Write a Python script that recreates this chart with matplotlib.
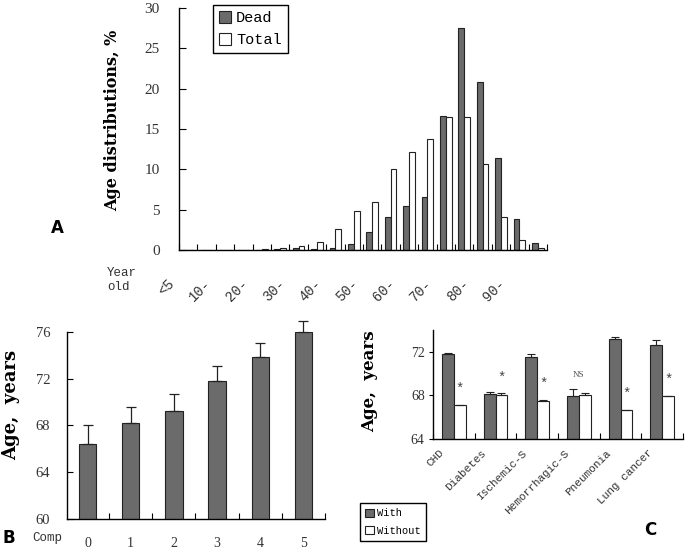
import matplotlib
matplotlib.use("Agg")
from matplotlib import pyplot as plt
import numpy as np

# panel A: age distribution (%)
age_groups = ["<5", "5-", "10-", "15-", "20-", "25-", "30-", "35-", "40-", "45-",
              "50-", "55-", "60-", "65-", "70-", "75-", "80-", "85-", "90-", "95-"]
dead = [0, 0, 0, 0, 0, 0.1, 0.2, 0.1, 0.2, 0.7,
        2.2, 4.1, 5.5, 6.6, 16.6, 27.5, 20.8, 11.4, 3.8, 0.9]
total = [0, 0, 0, 0, 0.1, 0.3, 0.5, 1.0, 2.6, 4.8,
         5.9, 10.1, 12.1, 13.7, 16.5, 16.5, 10.6, 4.1, 1.2, 0.2]

# panel B: age by number of comorbidities
comp = ["0", "1", "2", "3", "4", "5"]
comp_age = [66.4, 68.2, 69.2, 71.8, 73.8, 76.0]
comp_err = [1.6, 1.4, 1.45, 1.3, 1.2, 0.9]

# panel C: age with / without disease
disease = ["CHD", "Diabetes", "Ischemic-S", "Hemorrhagic-S", "Pneumonia", "Lung cancer"]
with_age = [71.8, 68.1, 71.5, 67.9, 73.2, 72.6]
with_err = [0.1, 0.2, 0.3, 0.65, 0.15, 0.5]
without_age = [67.1, 68.0, 67.45, 68.0, 66.65, 67.9]
without_err = [0.05, 0.2, 0.15, 0.2, 0.05, 0.05]
sig = ["*", "*", "*", "NS", "*", "*"]

DARK = "#6b6b6b"
MONO = "Liberation Mono"
SERIF = "DejaVu Serif"
W, H = 685, 552

fig = plt.figure(figsize=(6.85, 5.52), dpi=100)


def box(l, t, r, b):
    return [l / W, 1 - b / H, (r - l) / W, (b - t) / H]


def clean(ax):
    ax.spines["top"].set_visible(False)
    ax.spines["right"].set_visible(False)
    for s in ("left", "bottom"):
        ax.spines[s].set_linewidth(1.0)


# ---------- A ----------
axA = fig.add_axes(box(179, 8, 547, 250))
clean(axA)
x = np.arange(len(age_groups))
bw = 0.32
axA.bar(x - bw / 2, dead, bw, color=DARK, edgecolor="#222222", linewidth=0.8, label="Dead")
axA.bar(x + bw / 2, total, bw, color="white", edgecolor="#222222", linewidth=0.8, label="Total")
axA.set_xlim(-0.5, len(age_groups) - 0.5)
axA.set_ylim(0, 30)
axA.set_yticks(range(0, 31, 5))
axA.set_xticks(np.arange(len(age_groups) + 1) - 0.5)
axA.set_xticklabels([])
axA.tick_params(axis="x", direction="in", length=4)
axA.tick_params(axis="y", direction="in", length=5, pad=14, labelsize=11, labelcolor="#333333")
for lab in axA.get_yticklabels():
    lab.set_family("Liberation Serif")
for i, g in enumerate(age_groups):
    if i % 2 == 0:
        axA.text(i - 0.6, -0.11, g, transform=axA.get_xaxis_transform(), rotation=45,
                 ha="right", va="top", family=MONO, fontsize=10, color="#333333")
axA.legend(loc="upper left", bbox_to_anchor=(213 / W, 1 - 5 / H), bbox_transform=fig.transFigure,
           borderaxespad=0, fancybox=False, edgecolor="black", framealpha=1,
           prop={"family": MONO, "size": 11}, handlelength=0.8, handleheight=0.8,
           handletextpad=0.3, borderpad=0.4, labelspacing=0.5)
fig.text(113 / W, 1 - 120 / H, "Age distributions, %", rotation=90, ha="center", va="center",
         family=SERIF, fontweight="bold", fontsize=11.5)
fig.text(107 / W, 1 - 280 / H, "Year\nold", ha="left", va="center", family=MONO,
         fontsize=9, color="#333333", linespacing=1.3)
fig.text(57 / W, 1 - 228 / H, "A", ha="center", va="center", fontweight="bold", fontsize=12)

# ---------- B ----------
axB = fig.add_axes(box(67, 331.7, 325, 519))
clean(axB)
xb = np.arange(len(comp))
axB.bar(xb, comp_age, 0.4, bottom=0, color=DARK, edgecolor="#222222", linewidth=0.8)
axB.errorbar(xb, comp_age, yerr=[np.zeros(len(comp)), comp_err], fmt="none",
             ecolor="#222222", elinewidth=0.9, capsize=3.5, capthick=0.9, clip_on=False)
axB.set_xlim(-0.475, 5.28)
axB.set_ylim(60, 76)
axB.set_yticks(range(60, 77, 4))
axB.set_xticks(np.arange(len(comp)) + 0.5)
axB.set_xticklabels([])
axB.set_xticks(xb, minor=True)
axB.set_xticklabels(comp, minor=True)
axB.tick_params(axis="x", which="major", direction="in", length=4)
axB.tick_params(axis="x", which="minor", length=0, pad=13, labelsize=10, labelcolor="#333333")
axB.tick_params(axis="y", direction="in", length=4, pad=12, labelsize=10.5, labelcolor="#333333")
for lab in axB.get_xticklabels(minor=True) + axB.get_yticklabels():
    lab.set_family("Liberation Serif")
fig.text(11 / W, 1 - 405 / H, "Age,  years", rotation=90, ha="center", va="center",
         family=SERIF, fontweight="bold", fontsize=13)
fig.text(47 / W, 1 - 538 / H, "Comp", ha="center", va="center", family=MONO,
         fontsize=9, color="#333333")
fig.text(9 / W, 1 - 538 / H, "B", ha="center", va="center", fontweight="bold", fontsize=12)

# ---------- C ----------
axC = fig.add_axes(box(433, 330, 683, 439))
clean(axC)
xc = np.arange(len(disease))
cw = 0.285
axC.bar(xc - cw / 2, with_age, cw, color=DARK, edgecolor="#222222", linewidth=0.8, label="With")
axC.bar(xc + cw / 2, without_age, cw, color="white", edgecolor="#222222", linewidth=0.8,
        label="Without")
axC.errorbar(xc - cw / 2, with_age, yerr=[np.zeros(len(disease)), with_err], fmt="none",
             ecolor="#222222", elinewidth=0.8, capsize=3, capthick=0.8)
axC.errorbar(xc + cw / 2, without_age, yerr=[np.zeros(len(disease)), without_err], fmt="none",
             ecolor="#222222", elinewidth=0.8, capsize=3, capthick=0.8)
for i, s in enumerate(sig):
    if s == "NS":
        axC.text(xc[i], with_age[i] + with_err[i] + 1.0, s, ha="center", va="bottom",
                 family="Liberation Serif", fontsize=6.5, color="#555555")
    else:
        axC.text(xc[i] + cw / 2, without_age[i] + without_err[i] + 0.8, s, ha="center",
                 va="bottom", family=MONO, fontsize=10, color="#444444")
axC.set_xlim(-0.48, 5.48)
axC.set_ylim(64, 74)
axC.set_yticks([64, 68, 72])
axC.set_xticks(np.arange(len(disease) + 1) - 0.5)
axC.set_xticklabels([])
axC.tick_params(axis="x", direction="in", length=4)
axC.tick_params(axis="y", direction="out", length=3, pad=3, labelsize=10, labelcolor="#333333")
for lab in axC.get_yticklabels():
    lab.set_family("Liberation Serif")
for i, d in enumerate(disease):
    axC.text(i - 0.19, -0.08, d, transform=axC.get_xaxis_transform(), rotation=45,
             ha="right", va="top", family=MONO, fontsize=8, color="#333333")
axC.legend(loc="upper left", bbox_to_anchor=(360 / W, 1 - 503 / H), bbox_transform=fig.transFigure,
           borderaxespad=0, fancybox=False, edgecolor="black", framealpha=1,
           prop={"family": MONO, "size": 7.5}, handlelength=0.8, handleheight=0.8,
           handletextpad=0.3, borderpad=0.5, labelspacing=0.7)
fig.text(370 / W, 1 - 381 / H, "Age,  years", rotation=90, ha="center", va="center",
         family=SERIF, fontweight="bold", fontsize=12)
fig.text(650 / W, 1 - 530 / H, "C", ha="center", va="center", fontweight="bold", fontsize=12)

fig.savefig("out.png", dpi=100)
